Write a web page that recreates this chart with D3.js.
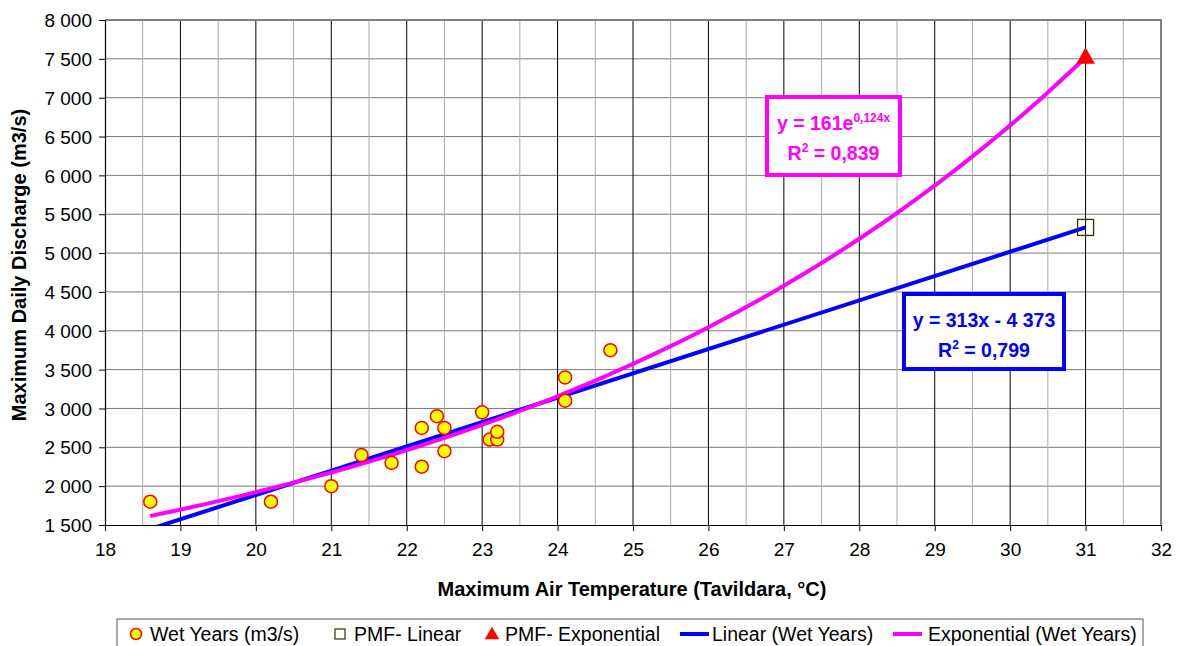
<!DOCTYPE html>
<html>
<head>
<meta charset="utf-8">
<script src="https://cdn.jsdelivr.net/npm/d3@7"></script>
<style>
  body { margin: 0; background: #fff; }
  svg { display: block; font-family: "Liberation Sans", Arial, sans-serif; }
</style>
</head>
<body>
<svg id="chart" width="1179" height="646"></svg>
<script>
// observed wet years: max air temperature (°C) and max daily discharge (m3/s)
var wetTemp = [18.6, 20.2, 21.0, 21.4, 21.8, 22.2, 22.2, 22.4, 22.5, 22.5, 23.0, 23.1, 23.2, 23.2, 24.1, 24.1, 24.7];
var wetFlow = [1800, 1800, 2000, 2400, 2300, 2750, 2250, 2900, 2750, 2450, 2950, 2600, 2600, 2700, 3400, 3100, 3750];

// PMF estimates at 31 °C
var pmfLinear = [[31, 5330]];
var pmfExp = [[31, 7520]];

// trendline coefficients (as printed on the chart)
var linFit = [313, -4373];      // slope, intercept
var expFit = [161, 0.124];      // a, b  ->  a * e^(b x)
var trendRange = [18.6, 31];

var xTicks = d3.range(18, 33, 1);
var yTicks = d3.range(1500, 8001, 500);
var legendLabels = ['Wet Years (m3/s)', 'PMF- Linear', 'PMF- Exponential', 'Linear (Wet Years)', 'Exponential (Wet Years)'];

var svg = d3.select('#chart');
var pLeft = 105, pRight = 1161, pTop = 20, pBottom = 525;

var x = d3.scaleLinear().domain([18, 32]).range([pLeft, pRight]);
var y = d3.scaleLinear().domain([1500, 8000]).range([pBottom, pTop]);

var fmt = d3.formatLocale({decimal: ',', thousands: ' ', grouping: [3], currency: ['', '']}).format(',');

// clip for trendlines
svg.append('defs').append('clipPath').attr('id', 'plot-clip')
    .append('rect')
    .attr('x', pLeft).attr('y', pTop)
    .attr('width', pRight - pLeft).attr('height', pBottom - pTop);

// grid
var grid = svg.append('g');
grid.selectAll('.hgrid')
    .data(yTicks.slice(1))
    .enter().append('line')
    .attr('x1', pLeft).attr('x2', pRight)
    .attr('y1', function (d) { return y(d); })
    .attr('y2', function (d) { return y(d); })
    .attr('stroke', '#7a7a7a')
    .attr('stroke-width', 1);

grid.selectAll('.vminor')
    .data(d3.range(18.5, 32, 1))
    .enter().append('line')
    .attr('x1', function (d) { return x(d); })
    .attr('x2', function (d) { return x(d); })
    .attr('y1', pTop).attr('y2', pBottom)
    .attr('stroke', '#aaaaaa')
    .attr('stroke-width', 1);

grid.selectAll('.vmajor')
    .data(xTicks.slice(1, -1))
    .enter().append('line')
    .attr('x1', function (d) { return x(d); })
    .attr('x2', function (d) { return x(d); })
    .attr('y1', pTop).attr('y2', pBottom)
    .attr('stroke', '#000')
    .attr('stroke-width', 1);

// plot area frame (top/right grey)
svg.append('path')
    .attr('d', 'M' + pLeft + ',' + pTop + 'H' + pRight + 'V' + pBottom)
    .attr('fill', 'none')
    .attr('stroke', '#808080')
    .attr('stroke-width', 2);

// axes
var xAxis = svg.append('g')
    .attr('transform', 'translate(0,' + pBottom + ')')
    .call(d3.axisBottom(x).tickValues(xTicks).tickSize(6).tickSizeOuter(0).tickPadding(12).tickFormat(d3.format('d')));
var yAxis = svg.append('g')
    .attr('transform', 'translate(' + pLeft + ',0)')
    .call(d3.axisLeft(y).tickValues(yTicks).tickSize(6).tickSizeOuter(0).tickPadding(7).tickFormat(fmt));

[xAxis, yAxis].forEach(function (a) {
    a.select('.domain').attr('stroke', '#000').attr('stroke-width', 1.2);
    a.selectAll('.tick line').attr('stroke', '#000');
    a.selectAll('text')
        .attr('font-family', '"Liberation Sans", Arial, sans-serif')
        .attr('font-size', 19)
        .attr('fill', '#000');
});
yAxis.selectAll('text').attr('dy', '0.35em');

// axis titles
svg.append('text')
    .attr('x', 632)
    .attr('y', 596)
    .attr('text-anchor', 'middle')
    .attr('font-size', 20)
    .attr('font-weight', 'bold')
    .text('Maximum Air Temperature (Tavildara, °C)');

svg.append('text')
    .attr('transform', 'translate(26,265) rotate(-90)')
    .attr('text-anchor', 'middle')
    .attr('font-size', 20)
    .attr('font-weight', 'bold')
    .text('Maximum Daily Discharge (m3/s)');

// trendlines
var trend = svg.append('g').attr('clip-path', 'url(#plot-clip)');
var line = d3.line()
    .x(function (d) { return x(d[0]); })
    .y(function (d) { return y(d[1]); });

var linPts = trendRange.map(function (t) { return [t, linFit[0] * t + linFit[1]]; });
trend.append('path')
    .attr('d', line(linPts))
    .attr('fill', 'none')
    .attr('stroke', '#0000ff')
    .attr('stroke-width', 4);

var expPts = d3.range(trendRange[0], trendRange[1] + 0.001, 0.1).map(function (t) {
    return [t, expFit[0] * Math.exp(expFit[1] * t)];
});
trend.append('path')
    .attr('d', line(expPts))
    .attr('fill', 'none')
    .attr('stroke', '#ff00ff')
    .attr('stroke-width', 4);

// wet year points
svg.append('g').selectAll('circle')
    .data(wetTemp)
    .enter().append('circle')
    .attr('cx', function (d) { return x(d); })
    .attr('cy', function (d, i) { return y(wetFlow[i]); })
    .attr('r', 6.5)
    .attr('fill', '#ffff00')
    .attr('stroke', '#ff0000')
    .attr('stroke-width', 1.5);

// PMF markers
svg.append('g').selectAll('rect')
    .data(pmfLinear)
    .enter().append('rect')
    .attr('x', function (d) { return x(d[0]) - 8; })
    .attr('y', function (d) { return y(d[1]) - 8; })
    .attr('width', 16).attr('height', 16)
    .attr('fill', 'none')
    .attr('stroke', '#333300')
    .attr('stroke-width', 1.3);

svg.append('g').selectAll('path')
    .data(pmfExp)
    .enter().append('path')
    .attr('d', d3.symbol().type(d3.symbolTriangle).size(150)())
    .attr('transform', function (d) { return 'translate(' + x(d[0]) + ',' + (y(d[1]) + 1) + ')'; })
    .attr('fill', '#ff0000');

// equation boxes
function eqBox(bx, by, bw, bh, color, line1, line2) {
    var g = svg.append('g');
    g.append('rect')
        .attr('x', bx).attr('y', by).attr('width', bw).attr('height', bh)
        .attr('fill', '#fff').attr('stroke', color).attr('stroke-width', 4);
    var cx = bx + bw / 2;
    var t1 = g.append('text')
        .attr('x', cx).attr('y', by + 33)
        .attr('text-anchor', 'middle')
        .attr('font-size', 19.5).attr('font-weight', 'bold').attr('fill', color);
    line1(t1);
    var t2 = g.append('text')
        .attr('x', cx).attr('y', by + 63)
        .attr('text-anchor', 'middle')
        .attr('font-size', 19.5).attr('font-weight', 'bold').attr('fill', color);
    line2(t2);
}

function r2(val) {
    return function (t) {
        t.append('tspan').text('R');
        t.append('tspan').attr('font-size', 12).attr('dy', -8).text('2');
        t.append('tspan').attr('dy', 8).text(' = ' + val);
    };
}

eqBox(767, 97, 133, 78, '#ff00ff', function (t) {
    t.append('tspan').text('y = ' + expFit[0] + 'e');
    t.append('tspan').attr('font-size', 12).attr('dy', -8).text(String(expFit[1]).replace('.', ',') + 'x');
}, r2('0,839'));

eqBox(904, 294, 160, 75, '#0000ff', function (t) {
    t.text('y = ' + linFit[0] + 'x - ' + fmt(-linFit[1]));
}, r2('0,799'));

// legend
var lg = svg.append('g');
lg.append('rect')
    .attr('x', 117).attr('y', 619).attr('width', 1026).attr('height', 32)
    .attr('fill', '#fff').attr('stroke', '#555').attr('stroke-width', 1);

var legX = [136, 340, 492, 694, 907];
var textX = [150, 354, 505, 712, 928];
var ly = 634;
legendLabels.forEach(function (lab, i) {
    var cx = legX[i];
    if (i === 0) {
        lg.append('circle').attr('cx', cx).attr('cy', ly).attr('r', 5.5)
            .attr('fill', '#ffff00').attr('stroke', '#ff0000').attr('stroke-width', 1.5);
    } else if (i === 1) {
        lg.append('rect').attr('x', cx - 5).attr('y', ly - 5).attr('width', 10).attr('height', 10)
            .attr('fill', 'none').attr('stroke', '#333300').attr('stroke-width', 1.2);
    } else if (i === 2) {
        lg.append('path').attr('d', d3.symbol().type(d3.symbolTriangle).size(90)())
            .attr('transform', 'translate(' + cx + ',' + (ly + 1) + ')')
            .attr('fill', '#ff0000');
    } else {
        lg.append('line').attr('x1', cx - 14).attr('x2', cx + 15)
            .attr('y1', ly).attr('y2', ly)
            .attr('stroke', i === 3 ? '#0000ff' : '#ff00ff').attr('stroke-width', 4);
    }
    lg.append('text')
        .attr('x', textX[i]).attr('y', ly).attr('dy', '0.35em')
        .attr('font-size', 19.5)
        .text(lab);
});
</script>
</body>
</html>
